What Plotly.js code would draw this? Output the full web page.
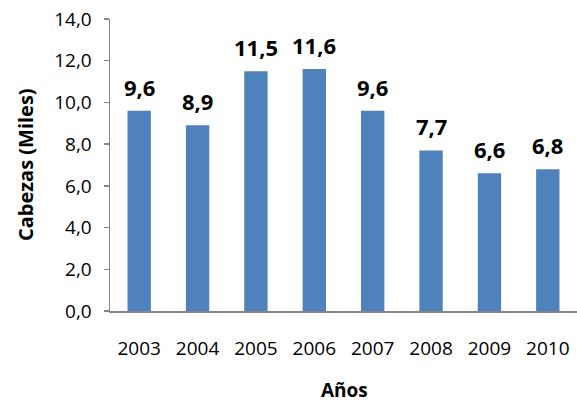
<!DOCTYPE html>
<html>
<head>
<meta charset="utf-8">
<script src="https://cdn.plot.ly/plotly-3.0.1.min.js"></script>
<style>html,body{margin:0;padding:0;background:#fff;}#chart{width:577px;height:404px;}</style>
</head>
<body>
<div id="chart"></div>
<script>
const years = ['2003','2004','2005','2006','2007','2008','2009','2010'];
const cabezas = [9.6, 8.9, 11.5, 11.6, 9.6, 7.7, 6.6, 6.8];
const yTickVals = [0, 2, 4, 6, 8, 10, 12, 14];
const xTitle = 'Años';
const yTitle = 'Cabezas (Miles)';

const fontFam = '"Open Sans", "Liberation Sans", sans-serif';
const axisColor = '#868686';

const labelAnns = years.map((y, i) => ({
  x: i, y: cabezas[i], xref: 'x', yref: 'y',
  text: '<b>' + cabezas[i].toFixed(1).replace('.', ',') + '</b>',
  showarrow: false, yanchor: 'bottom', yshift: 7,
  font: {family: fontFam, size: 22, color: '#000'}
}));

const layout = {
  width: 577, height: 404,
  margin: {l: 110, r: 0, t: 19, b: 93},
  paper_bgcolor: '#fff', plot_bgcolor: '#fff',
  showlegend: false,
  bargap: 0.6,
  font: {family: fontFam, color: '#000'},
  xaxis: {
    type: 'category', range: [-0.5, 7.5],
    showline: true, linecolor: axisColor, linewidth: 1.5,
    ticks: 'outside', ticklen: 20, tickcolor: 'rgba(0,0,0,0)',
    showgrid: false, zeroline: false,
    tickfont: {family: fontFam, size: 19, color: '#000'}
  },
  yaxis: {
    range: [0, 14], tickvals: yTickVals,
    ticktext: yTickVals.map(v => v.toFixed(1).replace('.', ',')),
    showline: true, linecolor: axisColor, linewidth: 1.5,
    ticks: 'outside', ticklen: 5, tickcolor: axisColor, tickwidth: 1.5,
    showgrid: false, zeroline: false,
    ticklabelstandoff: 8,
    tickfont: {family: fontFam, size: 19, color: '#000'}
  },
  annotations: labelAnns.concat([
    {x: 0.503, y: 0, xref: 'paper', yref: 'paper', yanchor: 'middle', yshift: -79,
     text: '<b>' + xTitle + '</b>', showarrow: false, font: {family: fontFam, size: 19, color: '#000'}},
    {x: 0, y: 0.5, xref: 'paper', yref: 'paper', xanchor: 'center', xshift: -85, textangle: -90,
     text: '<b>' + yTitle + '</b>', showarrow: false, font: {family: fontFam, size: 20, color: '#000'}}
  ])
};

Plotly.newPlot('chart', [{
  type: 'bar', x: years, y: cabezas,
  marker: {color: '#4F81BD'}, hoverinfo: 'none'
}], layout, {staticPlot: true, displayModeBar: false});
</script>
</body>
</html>
